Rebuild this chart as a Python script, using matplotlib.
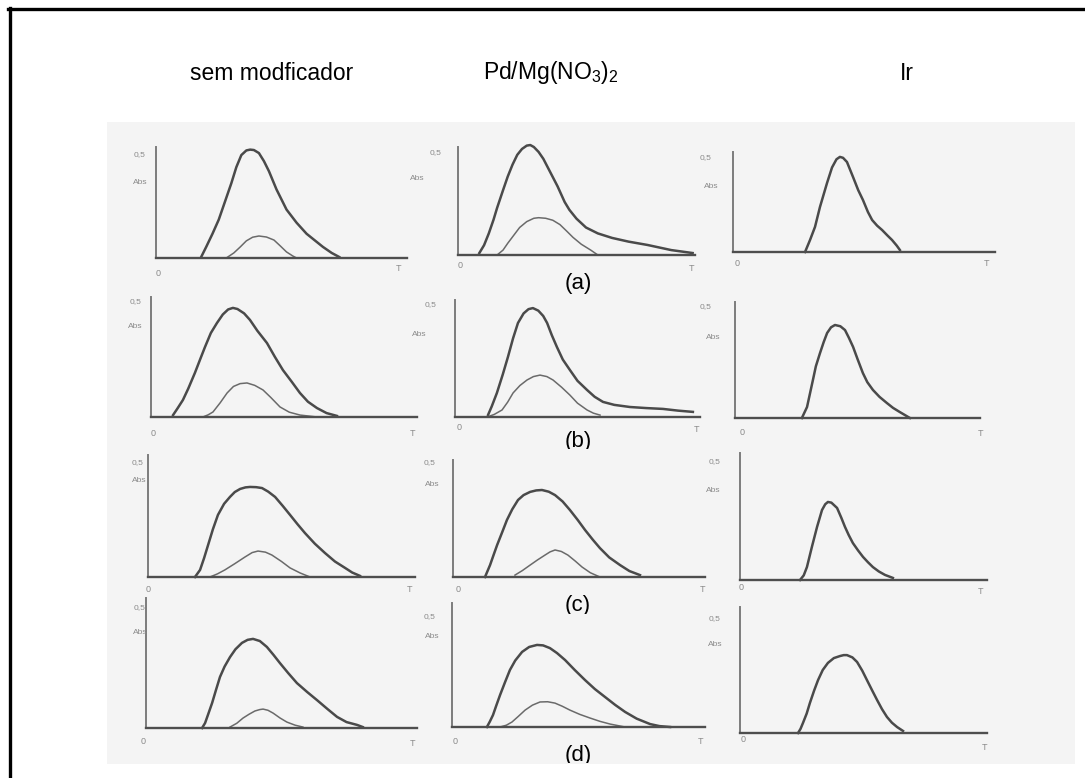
import matplotlib
matplotlib.use('Agg')
import matplotlib.pyplot as plt
from matplotlib.patches import Rectangle
from matplotlib.lines import Line2D
from matplotlib.transforms import Bbox, TransformedBbox

plt.rcParams['font.family'] = ['Liberation Sans', 'DejaVu Sans']
plt.rcParams['mathtext.fontset'] = 'custom'
plt.rcParams['mathtext.rm'] = 'Liberation Sans'
plt.rcParams['mathtext.it'] = 'Liberation Sans:italic'

W, H = 1085, 778

column_titles = ['sem modficador', r'Pd/Mg(NO$_3$)$_2$', 'Ir']
row_labels = ['(a)', '(b)', '(c)', '(d)']
y_tick_label = '0,5'
y_axis_label = 'Abs'
x_start_label = '0'
x_end_label = 'T'

# ---- data: x as fraction of the time axis (0..T), y in Abs ----
a1_main_x = [0.18, 0.20, 0.225, 0.25, 0.275, 0.30, 0.32, 0.34, 0.36, 0.375, 0.39, 0.41, 0.43, 0.45, 0.48,
             0.52, 0.56, 0.60, 0.635, 0.665, 0.70, 0.73]
a1_main_y = [0.005, 0.055, 0.12, 0.19, 0.28, 0.37, 0.45, 0.51, 0.533, 0.537, 0.535, 0.52, 0.48, 0.43, 0.34,
             0.24, 0.175, 0.12, 0.085, 0.055, 0.025, 0.005]
a1_small_x = [0.28, 0.31, 0.335, 0.36, 0.385, 0.41, 0.44, 0.47, 0.495, 0.52, 0.545, 0.56]
a1_small_y = [0.0, 0.025, 0.054, 0.085, 0.103, 0.109, 0.104, 0.089, 0.06, 0.03, 0.01, 0.0]

a2_main_x = [0.09, 0.11, 0.13, 0.15, 0.165, 0.19, 0.21, 0.23, 0.25, 0.27, 0.29, 0.305, 0.32, 0.34, 0.36,
             0.39, 0.42, 0.45, 0.47, 0.50, 0.54, 0.59, 0.65, 0.72, 0.80, 0.90, 0.99]
a2_main_y = [0.01, 0.05, 0.11, 0.18, 0.24, 0.33, 0.40, 0.46, 0.51, 0.54, 0.557, 0.56, 0.55, 0.525, 0.49,
             0.42, 0.35, 0.27, 0.23, 0.185, 0.14, 0.11, 0.087, 0.068, 0.051, 0.025, 0.01]
a2_small_x = [0.165, 0.19, 0.21, 0.235, 0.26, 0.29, 0.32, 0.34, 0.37, 0.40, 0.43, 0.46, 0.485, 0.52, 0.56, 0.59]
a2_small_y = [0.0, 0.025, 0.06, 0.10, 0.14, 0.17, 0.187, 0.19, 0.187, 0.177, 0.155, 0.12, 0.09, 0.055, 0.025, 0.0]

a3_main_x = [0.275, 0.294, 0.313, 0.332, 0.359, 0.378, 0.395, 0.408, 0.42, 0.435, 0.458, 0.478, 0.496, 0.515,
             0.531, 0.55, 0.569, 0.59, 0.607, 0.625, 0.637]
a3_main_y = [0.0, 0.066, 0.138, 0.248, 0.38, 0.465, 0.51, 0.523, 0.518, 0.495, 0.413, 0.34, 0.286, 0.22,
             0.176, 0.145, 0.121, 0.09, 0.066, 0.035, 0.011]

b1_main_x = [0.083, 0.10, 0.12, 0.14, 0.165, 0.185, 0.203, 0.225, 0.248, 0.27, 0.29, 0.308, 0.325, 0.35,
             0.372, 0.40, 0.436, 0.466, 0.496, 0.53, 0.56, 0.59, 0.624, 0.66, 0.699]
b1_main_y = [0.009, 0.04, 0.078, 0.13, 0.202, 0.265, 0.321, 0.385, 0.431, 0.47, 0.493, 0.50, 0.495, 0.475,
             0.445, 0.395, 0.339, 0.275, 0.215, 0.16, 0.11, 0.07, 0.041, 0.018, 0.005]
b1_small_x = [0.195, 0.215, 0.233, 0.26, 0.286, 0.31, 0.335, 0.361, 0.39, 0.421, 0.45, 0.485, 0.52, 0.56, 0.624]
b1_small_y = [0.0, 0.01, 0.023, 0.065, 0.11, 0.14, 0.153, 0.156, 0.145, 0.124, 0.09, 0.046, 0.022, 0.009, 0.0]

b2_main_x = [0.135, 0.15, 0.171, 0.195, 0.216, 0.237, 0.257, 0.28, 0.30, 0.318, 0.34, 0.36, 0.376, 0.395,
             0.416, 0.44, 0.469, 0.50, 0.539, 0.57, 0.604, 0.65, 0.714, 0.78, 0.849, 0.91, 0.971]
b2_main_y = [0.01, 0.05, 0.113, 0.20, 0.282, 0.37, 0.442, 0.487, 0.507, 0.512, 0.50, 0.475, 0.442, 0.385,
             0.329, 0.27, 0.221, 0.17, 0.127, 0.095, 0.071, 0.057, 0.047, 0.042, 0.038, 0.03, 0.024]
b2_small_x = [0.131, 0.16, 0.192, 0.215, 0.237, 0.265, 0.294, 0.32, 0.347, 0.375, 0.40, 0.435, 0.469, 0.50,
              0.539, 0.565, 0.592]
b2_small_y = [0.0, 0.012, 0.033, 0.07, 0.113, 0.148, 0.174, 0.19, 0.197, 0.19, 0.174, 0.14, 0.103, 0.065,
              0.033, 0.018, 0.009]

b3_main_x = [0.273, 0.294, 0.318, 0.33, 0.347, 0.362, 0.376, 0.392, 0.408, 0.43, 0.449, 0.465, 0.482, 0.50,
             0.522, 0.54, 0.563, 0.59, 0.62, 0.645, 0.673, 0.714]
b3_main_y = [0.0, 0.052, 0.18, 0.245, 0.308, 0.36, 0.403, 0.43, 0.441, 0.435, 0.417, 0.38, 0.337, 0.28,
             0.213, 0.17, 0.133, 0.10, 0.071, 0.048, 0.028, 0.0]

c1_main_x = [0.176, 0.195, 0.21, 0.225, 0.243, 0.262, 0.285, 0.307, 0.325, 0.345, 0.365, 0.382, 0.405, 0.427,
             0.45, 0.476, 0.505, 0.532, 0.56, 0.588, 0.625, 0.663, 0.70, 0.738, 0.765, 0.794]
c1_main_y = [0.0, 0.032, 0.085, 0.144, 0.215, 0.28, 0.33, 0.361, 0.383, 0.397, 0.404, 0.406, 0.405, 0.401,
             0.385, 0.361, 0.32, 0.28, 0.238, 0.198, 0.15, 0.108, 0.07, 0.041, 0.02, 0.005]
c1_small_x = [0.232, 0.26, 0.288, 0.325, 0.363, 0.39, 0.412, 0.44, 0.464, 0.50, 0.532, 0.57, 0.607]
c1_small_y = [0.0, 0.014, 0.032, 0.06, 0.09, 0.11, 0.117, 0.112, 0.099, 0.07, 0.041, 0.018, 0.0]

c2_main_x = [0.127, 0.147, 0.16, 0.175, 0.195, 0.214, 0.235, 0.258, 0.28, 0.306, 0.33, 0.353, 0.38, 0.405,
             0.435, 0.464, 0.495, 0.524, 0.555, 0.583, 0.62, 0.663, 0.70, 0.742]
c2_main_y = [0.0, 0.056, 0.10, 0.15, 0.21, 0.268, 0.318, 0.362, 0.385, 0.40, 0.407, 0.409, 0.401, 0.385,
             0.355, 0.315, 0.268, 0.221, 0.175, 0.136, 0.092, 0.056, 0.028, 0.009]
c2_small_x = [0.246, 0.275, 0.306, 0.335, 0.365, 0.385, 0.405, 0.43, 0.456, 0.485, 0.512, 0.545, 0.583]
c2_small_y = [0.009, 0.03, 0.056, 0.08, 0.103, 0.118, 0.127, 0.12, 0.103, 0.075, 0.047, 0.02, 0.0]

c3_main_x = [0.243, 0.258, 0.271, 0.291, 0.312, 0.332, 0.345, 0.356, 0.37, 0.393, 0.41, 0.425, 0.44, 0.457,
             0.478, 0.498, 0.518, 0.538, 0.562, 0.587, 0.619]
c3_main_y = [0.0, 0.02, 0.056, 0.143, 0.23, 0.303, 0.328, 0.338, 0.335, 0.312, 0.27, 0.23, 0.195, 0.16,
             0.128, 0.1, 0.077, 0.056, 0.037, 0.022, 0.009]

d1_main_x = [0.207, 0.218, 0.23, 0.244, 0.258, 0.273, 0.29, 0.31, 0.33, 0.354, 0.375, 0.395, 0.42, 0.446,
             0.47, 0.494, 0.525, 0.557, 0.595, 0.631, 0.67, 0.705, 0.74, 0.779, 0.80]
d1_main_y = [0.0, 0.021, 0.06, 0.106, 0.16, 0.216, 0.26, 0.30, 0.333, 0.36, 0.373, 0.377, 0.368, 0.343,
             0.31, 0.275, 0.232, 0.19, 0.152, 0.118, 0.08, 0.047, 0.025, 0.013, 0.004]
d1_small_x = [0.31, 0.335, 0.358, 0.38, 0.402, 0.42, 0.432, 0.45, 0.469, 0.495, 0.52, 0.55, 0.579]
d1_small_y = [0.004, 0.02, 0.042, 0.058, 0.072, 0.078, 0.08, 0.075, 0.063, 0.042, 0.025, 0.012, 0.004]

d2_main_x = [0.138, 0.15, 0.162, 0.175, 0.19, 0.21, 0.229, 0.25, 0.277, 0.305, 0.336, 0.36, 0.387, 0.415,
             0.447, 0.485, 0.526, 0.565, 0.605, 0.645, 0.684, 0.73, 0.783, 0.82, 0.862]
d2_main_y = [0.0, 0.025, 0.053, 0.095, 0.142, 0.2, 0.253, 0.295, 0.333, 0.355, 0.364, 0.362, 0.35, 0.328,
             0.297, 0.253, 0.208, 0.168, 0.133, 0.098, 0.067, 0.037, 0.013, 0.004, 0.0]
d2_small_x = [0.19, 0.215, 0.237, 0.262, 0.289, 0.318, 0.348, 0.378, 0.407, 0.436, 0.466, 0.505, 0.545,
              0.585, 0.625, 0.684]
d2_small_y = [0.0, 0.008, 0.022, 0.047, 0.075, 0.097, 0.111, 0.112, 0.106, 0.092, 0.075, 0.056, 0.04,
              0.025, 0.013, 0.0]

d3_main_x = [0.235, 0.245, 0.255, 0.27, 0.283, 0.30, 0.316, 0.335, 0.356, 0.38, 0.405, 0.42, 0.433, 0.455,
             0.474, 0.495, 0.514, 0.535, 0.555, 0.575, 0.595, 0.615, 0.636, 0.66]
d3_main_y = [0.0, 0.018, 0.044, 0.085, 0.131, 0.185, 0.231, 0.275, 0.306, 0.327, 0.336, 0.34, 0.34, 0.33,
             0.31, 0.272, 0.231, 0.186, 0.144, 0.104, 0.07, 0.045, 0.026, 0.009]

panels = [
    [(a1_main_x, a1_main_y, a1_small_x, a1_small_y),
     (a2_main_x, a2_main_y, a2_small_x, a2_small_y),
     (a3_main_x, a3_main_y, None, None)],
    [(b1_main_x, b1_main_y, b1_small_x, b1_small_y),
     (b2_main_x, b2_main_y, b2_small_x, b2_small_y),
     (b3_main_x, b3_main_y, None, None)],
    [(c1_main_x, c1_main_y, c1_small_x, c1_small_y),
     (c2_main_x, c2_main_y, c2_small_x, c2_small_y),
     (c3_main_x, c3_main_y, None, None)],
    [(d1_main_x, d1_main_y, d1_small_x, d1_small_y),
     (d2_main_x, d2_main_y, d2_small_x, d2_small_y),
     (d3_main_x, d3_main_y, None, None)],
]

# ---- layout (pixels): x0, x1, top, baseline ----
boxes = [
    [(156, 407, 147, 258), (458, 695, 147, 255), (733, 995, 152, 252)],
    [(151, 417, 297, 417), (455, 700, 300, 417), (735, 980, 302, 418)],
    [(148, 415, 455, 577), (453, 705, 460, 577), (740, 987, 453, 580)],
    [(146, 417, 598, 728), (452, 705, 603, 727), (740, 987, 607, 733)],
]
# label positions (pixels): '0,5', 'Abs', '0', 'T'
label_pos = [
    [((140, 155), (140, 183), (158, 273), (398, 268)),
     ((436, 153), (417, 178), (460, 265), (692, 268)),
     ((706, 158), (711, 186), (737, 263), (987, 263))],
    [((136, 302), (135, 326), (153, 433), (412, 433)),
     ((431, 305), (419, 335), (459, 428), (697, 430)),
     ((706, 307), (713, 338), (742, 432), (980, 433))],
    [((138, 463), (139, 481), (148, 589), (410, 590)),
     ((430, 463), (432, 485), (458, 590), (703, 590)),
     ((715, 462), (713, 490), (741, 588), (980, 592))],
    [((140, 608), (140, 632), (143, 742), (413, 743)),
     ((430, 617), (432, 637), (455, 741), (700, 741)),
     ((715, 619), (715, 645), (743, 740), (985, 747))],
]
title_pos = [(272, 73), (551, 73), (907, 73)]
row_label_pos = [(578, 283), (578, 441), (578, 606), (578, 756)]
row_label_clip = [None, 449, 614, 763]

fig = plt.figure(figsize=(W / 100, H / 100), dpi=100)
fig.patch.set_facecolor('white')

def fx(px):
    return px / W

def fy(py):
    return 1 - py / H

# scanned-image grey background
fig.patches.append(Rectangle((fx(107), fy(764)), fx(1075) - fx(107), fy(122) - fy(764),
                             transform=fig.transFigure, facecolor='#f4f4f4',
                             edgecolor='none', zorder=-10))
# outer frame lines (top and left)
fig.lines.append(Line2D([fx(8), fx(1085)], [fy(8.5), fy(8.5)], transform=fig.transFigure,
                        color='black', lw=2.4))
fig.lines.append(Line2D([fx(9.5), fx(9.5)], [fy(8), fy(778)], transform=fig.transFigure,
                        color='black', lw=2.4))

for (tx, ty), t in zip(title_pos, column_titles):
    fig.text(fx(tx), fy(ty), t, ha='center', va='center', fontsize=16.5, color='black')
for (tx, ty), t, clip in zip(row_label_pos, row_labels, row_label_clip):
    txt = fig.text(fx(tx), fy(ty), t, ha='center', va='center', fontsize=16, color='black')
    if clip is not None:
        clip_rect = Rectangle((0, fy(clip)), 1, 1 - fy(clip), transform=fig.transFigure,
                              visible=False)
        fig.patches.append(clip_rect)
        txt.set_clip_path(clip_rect)
        txt.set_clip_on(True)

YTOP = 0.55
for r in range(4):
    for c in range(3):
        x0, x1, top, base = boxes[r][c]
        ax = fig.add_axes([fx(x0), fy(base), fx(x1) - fx(x0), fy(top) - fy(base)])
        ax.set_zorder(2)
        ax.set_xlim(0, 1)
        ax.set_ylim(0, YTOP)
        ax.patch.set_visible(False)
        for s in ('top', 'right'):
            ax.spines[s].set_visible(False)
        ax.spines['left'].set_color('#7c7c7c')
        ax.spines['left'].set_linewidth(1.4)
        ax.spines['bottom'].set_color('#4e4e4e')
        ax.spines['bottom'].set_linewidth(1.7)
        ax.set_xticks([])
        ax.set_yticks([])
        mx, my, sx, sy = panels[r][c]
        ax.plot(mx, my, color='#4a4a4a', lw=1.8, clip_on=False, solid_joinstyle='round')
        if sx is not None:
            ax.plot(sx, sy, color='#6a6a6a', lw=1.1, clip_on=False)
        (p05, pabs, p0, pT) = label_pos[r][c]
        fig.text(fx(p05[0]), fy(p05[1]), y_tick_label, ha='center', va='center',
                 fontsize=6, color='#8a8a8a')
        fig.text(fx(pabs[0]), fy(pabs[1]), y_axis_label, ha='center', va='center',
                 fontsize=6, color='#8a8a8a')
        fig.text(fx(p0[0]), fy(p0[1]), x_start_label, ha='center', va='center',
                 fontsize=6.5, color='#8a8a8a')
        fig.text(fx(pT[0]), fy(pT[1]), x_end_label, ha='center', va='center',
                 fontsize=6.5, color='#8a8a8a')

fig.savefig('out.png', dpi=100, facecolor='white')
